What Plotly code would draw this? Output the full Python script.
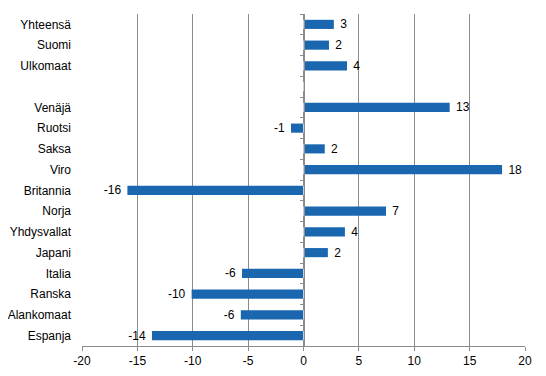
import plotly.graph_objects as go

categories = ["Yhteensä", "Suomi", "Ulkomaat", " ", "Venäjä", "Ruotsi", "Saksa", "Viro",
              "Britannia", "Norja", "Yhdysvallat", "Japani", "Italia", "Ranska",
              "Alankomaat", "Espanja"]
values = [2.74, 2.3, 3.93, None, 13.2, -1.13, 1.92, 17.93,
          -15.9, 7.45, 3.74, 2.2, -5.55, -10.1, -5.66, -13.68]
x_ticks = [-20, -15, -10, -5, 0, 5, 10, 15, 20]

def fmt(v):
    if v is None:
        return ""
    s = f"{round(v):d}"
    return (" " + s) if v >= 0 else (s + " ")

labels = [fmt(v) for v in values]
x_ticktext = [str(t) for t in x_ticks]

fig = go.Figure()
fig.add_trace(go.Bar(
    y=categories, x=values, orientation="h",
    marker=dict(color="#1A67B0", line=dict(width=0)),
    text=labels, textposition="outside", cliponaxis=False,
    constraintext="none", textangle=0,
    textfont=dict(family="Liberation Sans, Arial", size=12, color="black"),
    hoverinfo="skip",
))
# invisible helper trace to draw the category axis at x=0 with tick marks
fig.add_trace(go.Bar(y=categories, x=[0] * len(categories), orientation="h",
                     yaxis="y2", marker=dict(color="rgba(0,0,0,0)"),
                     showlegend=False, hoverinfo="skip"))

fig.update_layout(
    width=538, height=368,
    margin=dict(l=74, r=21, t=6, b=30, autoexpand=False),
    plot_bgcolor="white", paper_bgcolor="white",
    showlegend=False, bargap=0.56,
    font=dict(family="Liberation Sans, Arial", size=12, color="black"),
    xaxis=dict(range=[-20, 20], tickvals=x_ticks, ticktext=x_ticktext,
               showgrid=True, automargin=False,
               gridcolor="#8c8c8c", gridwidth=1, zeroline=False,
               showline=True, linecolor="#8c8c8c", linewidth=1,
               ticks="outside", ticklen=4, tickcolor="#8c8c8c",
               tickfont=dict(size=12)),
    yaxis=dict(categoryorder="array", categoryarray=categories,
               autorange="reversed", showgrid=False, zeroline=False,
               showline=False, ticks="", ticklabelstandoff=10,
               automargin=False, tickfont=dict(size=12)),
    yaxis2=dict(overlaying="y", anchor="free", position=0.5,
                categoryorder="array", categoryarray=categories,
                autorange="reversed", showgrid=False, zeroline=False,
                showline=True, linecolor="#8c8c8c", linewidth=1,
                ticks="outside", ticklen=4, tickcolor="#8c8c8c",
                tickson="boundaries", showticklabels=False, automargin=False),
)

fig.write_html("out.html")
